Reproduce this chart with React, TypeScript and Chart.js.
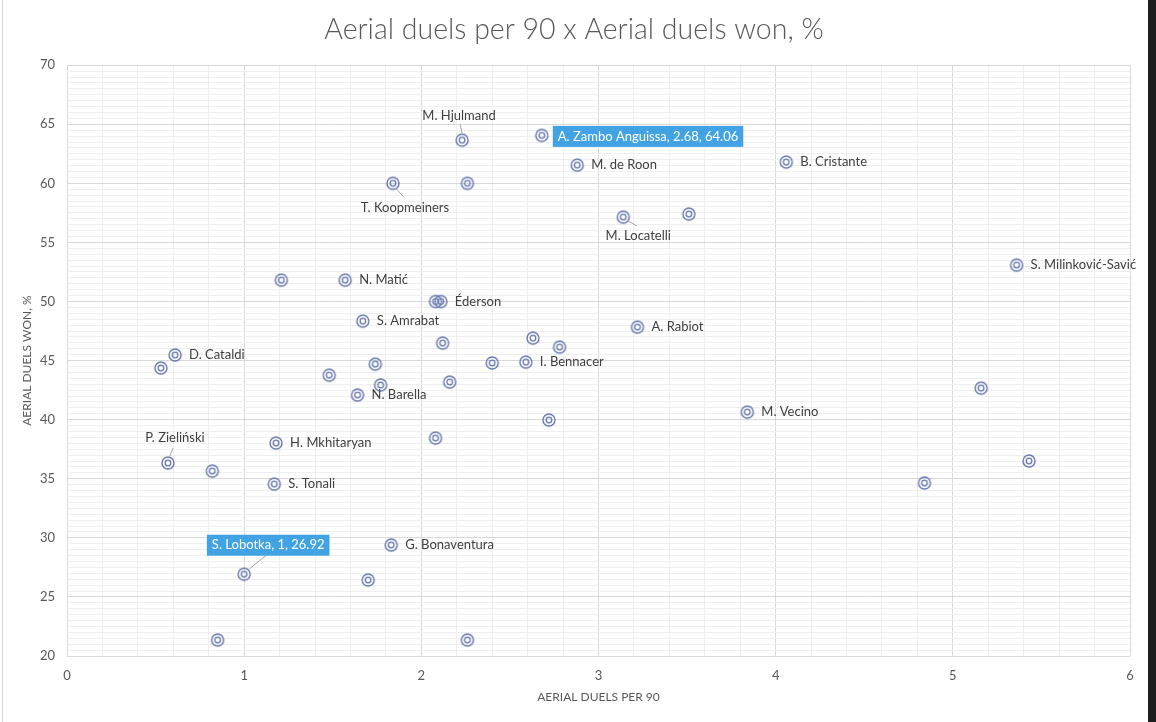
import React, { useEffect, useRef } from 'react';
import { Chart, registerables } from 'chart.js';
Chart.register(...registerables);

const playerNames = [
  'M. Hjulmand', 'A. Zambo Anguissa', 'M. de Roon', 'B. Cristante', 'T. Koopmeiners', '',
  'M. Locatelli', '', 'S. Milinković-Savić', '', 'N. Matić', '', 'Éderson', 'S. Amrabat',
  'A. Rabiot', '', '', '', 'D. Cataldi', '', '', 'I. Bennacer', '', '', '', '', 'N. Barella',
  '', 'M. Vecino', '', '', 'H. Mkhitaryan', 'P. Zieliński', '', '', 'S. Tonali', '',
  'G. Bonaventura', 'S. Lobotka', '', '', '',
];
const duelsPer90 = [
  2.23, 2.68, 2.88, 4.06, 1.84, 2.26,
  3.14, 3.51, 5.36, 1.21, 1.57, 2.08, 2.11, 1.67,
  3.22, 2.63, 2.78, 2.12, 0.61, 0.53, 1.74, 2.59, 2.40, 1.48, 2.16, 1.77, 1.64,
  5.16, 3.84, 2.72, 2.08, 1.18, 0.57, 0.82, 5.43, 1.17, 4.84,
  1.83, 1, 1.70, 0.85, 2.26,
];
const duelsWonPct = [
  63.65, 64.06, 61.54, 61.8, 60.0, 60.0,
  57.14, 57.4, 53.08, 51.81, 51.81, 50.0, 50.0, 48.34,
  47.83, 46.9, 46.14, 46.48, 45.47, 44.37, 44.7, 44.87, 44.8, 43.77, 43.18, 42.93, 42.08,
  42.67, 40.64, 39.97, 38.44, 38.02, 36.33, 35.65, 36.5, 34.55, 34.64,
  29.39, 26.92, 26.43, 21.35, 21.35,
];
const highlightedPlayers = ['A. Zambo Anguissa', 'S. Lobotka'];
const xTickLabels = ['0', '1', '2', '3', '4', '5', '6'];
const yTickLabels = ['20', '25', '30', '35', '40', '45', '50', '55', '60', '65', '70'];

const TITLE = 'Aerial duels per 90 x Aerial duels won, %';
const X_TITLE = 'AERIAL DUELS PER 90';
const Y_TITLE = 'AERIAL DUELS WON, %';

const FONT = 'Lato, "Open Sans", sans-serif';
const TEXT = '#595959';
const LABEL = '#404040';
const MARK = '#6677ad';
const HILITE = '#41a3e4';

// label placement (styling only): offsets relative to the point
type Place = { dx: number; dy: number; align: 'left' | 'center'; leader?: number[] };
const placements: Record<string, Place> = {
  'M. Hjulmand': { dx: -3, dy: -24, align: 'center', leader: [0, -7, -2, -16] },
  'T. Koopmeiners': { dx: 12, dy: 24, align: 'center', leader: [3, 5, 11, 14] },
  'M. Locatelli': { dx: 15, dy: 19, align: 'center', leader: [5, 4, 14, 9] },
  'P. Zieliński': { dx: 7, dy: -25, align: 'center', leader: [2, -7, 5, -15] },
  'S. Lobotka': { dx: 24, dy: -29, align: 'center', leader: [5, -5, 22, -19] },
  'A. Zambo Anguissa': { dx: 11, dy: 1, align: 'left' },
};

function makeMarker(): HTMLCanvasElement {
  const c = document.createElement('canvas');
  c.width = 16;
  c.height = 16;
  const g = c.getContext('2d')!;
  g.strokeStyle = MARK;
  g.lineWidth = 1.4;
  g.beginPath();
  g.arc(8, 8, 6, 0, Math.PI * 2);
  g.stroke();
  g.lineWidth = 1.3;
  g.beginPath();
  g.arc(8, 8, 2.8, 0, Math.PI * 2);
  g.stroke();
  return c;
}

const labelPlugin = {
  id: 'pointLabels',
  afterDatasetsDraw(chart: any) {
    const ctx = chart.ctx as CanvasRenderingContext2D;
    const meta = chart.getDatasetMeta(0);
    ctx.save();
    ctx.font = `13px ${FONT}`;
    ctx.textBaseline = 'middle';
    meta.data.forEach((pt: any, i: number) => {
      const name = playerNames[i];
      if (!name) return;
      const px = pt.x;
      const py = pt.y;
      const hl = highlightedPlayers.includes(name);
      const text = hl ? `${name}, ${duelsPer90[i]}, ${duelsWonPct[i]}` : name;
      const pl = placements[name] || { dx: 14, dy: 0, align: 'left' };
      if (pl.leader) {
        ctx.strokeStyle = '#a6a6a6';
        ctx.lineWidth = 1;
        ctx.beginPath();
        ctx.moveTo(px + pl.leader[0], py + pl.leader[1]);
        ctx.lineTo(px + pl.leader[2], py + pl.leader[3]);
        ctx.stroke();
      }
      const w = ctx.measureText(text).width;
      let left = pl.align === 'center' ? px + pl.dx - w / 2 : px + pl.dx;
      const cy = py + pl.dy;
      if (hl) {
        const padX = 5;
        const bx = pl.align === 'center' ? left - padX : left;
        if (pl.align !== 'center') left += padX;
        ctx.fillStyle = HILITE;
        ctx.fillRect(bx, cy - 10.5, w + padX * 2, 21);
        ctx.fillStyle = '#ffffff';
      } else {
        ctx.fillStyle = LABEL;
      }
      ctx.textAlign = 'left';
      ctx.fillText(text, left, cy);
    });
    ctx.restore();
  },
};

export default function App() {
  const ref = useRef<HTMLCanvasElement>(null);
  useEffect(() => {
    if (!ref.current) return;
    const marker = makeMarker();
    const chart = new Chart(ref.current, {
      type: 'scatter',
      data: {
        datasets: [
          {
            label: 'Players',
            data: duelsPer90.map((x, i) => ({ x, y: duelsWonPct[i] })),
            pointStyle: marker as any,
            pointRadius: 7,
            pointHoverRadius: 7,
          },
        ],
      },
      options: {
        responsive: false,
        animation: false,
        layout: { padding: 0 },
        plugins: {
          legend: { display: false },
          tooltip: { enabled: false },
          title: {
            display: true,
            text: TITLE,
            color: TEXT,
            font: { family: FONT, size: 28.5, weight: '300' as any },
            padding: { top: 13, bottom: 18 },
          },
        },
        scales: {
          x: {
            type: 'linear',
            min: 0,
            max: 6,
            border: { display: false },
            grid: {
              drawTicks: false,
              color: (c: any) => (Math.abs(c.tick.value - Math.round(c.tick.value)) < 1e-6 ? '#d9d9d9' : '#efefef'),
              lineWidth: 1,
            },
            ticks: {
              stepSize: 0.2,
              autoSkip: false,
              maxRotation: 0,
              padding: 12,
              color: TEXT,
              font: { family: FONT, size: 13 },
              callback: (v: any) => {
                const n = Number(v);
                return Math.abs(n - Math.round(n)) < 1e-6 ? xTickLabels[Math.round(n)] : '';
              },
            },
            title: {
              display: true,
              text: X_TITLE,
              color: TEXT,
              font: { family: FONT, size: 12 },
              padding: { top: 4, bottom: 18 },
            },
            afterFit: (s: any) => { s.height = 66; },
          },
          y: {
            type: 'linear',
            min: 20,
            max: 70,
            border: { display: false },
            grid: {
              drawTicks: false,
              color: (c: any) => (Math.abs(c.tick.value / 5 - Math.round(c.tick.value / 5)) < 1e-6 ? '#d9d9d9' : '#efefef'),
              lineWidth: 1,
            },
            ticks: {
              stepSize: 0.5,
              autoSkip: false,
              padding: 12,
              color: TEXT,
              font: { family: FONT, size: 13 },
              callback: (v: any) => {
                const n = Number(v);
                const k = (n - 20) / 5;
                return Math.abs(k - Math.round(k)) < 1e-6 ? yTickLabels[Math.round(k)] : '';
              },
            },
            title: {
              display: true,
              text: Y_TITLE,
              color: TEXT,
              font: { family: FONT, size: 12 },
              padding: { top: 20, bottom: 0 },
            },
            afterFit: (s: any) => { s.width = 67; },
          },
          yRight: {
            type: 'linear',
            position: 'right',
            min: 20,
            max: 70,
            border: { display: false },
            grid: { display: false, drawTicks: false },
            ticks: { display: false },
            afterFit: (s: any) => { s.width = 18; },
          },
        },
      },
      plugins: [labelPlugin],
    });
    return () => chart.destroy();
  }, []);

  return (
    <div style={{ position: 'fixed', left: 0, top: 0, width: 1156, height: 722, background: '#1e1e1e' }}>
      <div style={{ position: 'absolute', left: 0, top: 0, width: 1148, height: 722, background: '#ffffff' }}>
        <canvas ref={ref} width={1148} height={722} />
        <div style={{ position: 'absolute', left: 2, top: 0, width: 1, height: 722, background: '#d6d6d6' }} />
      </div>
    </div>
  );
}
